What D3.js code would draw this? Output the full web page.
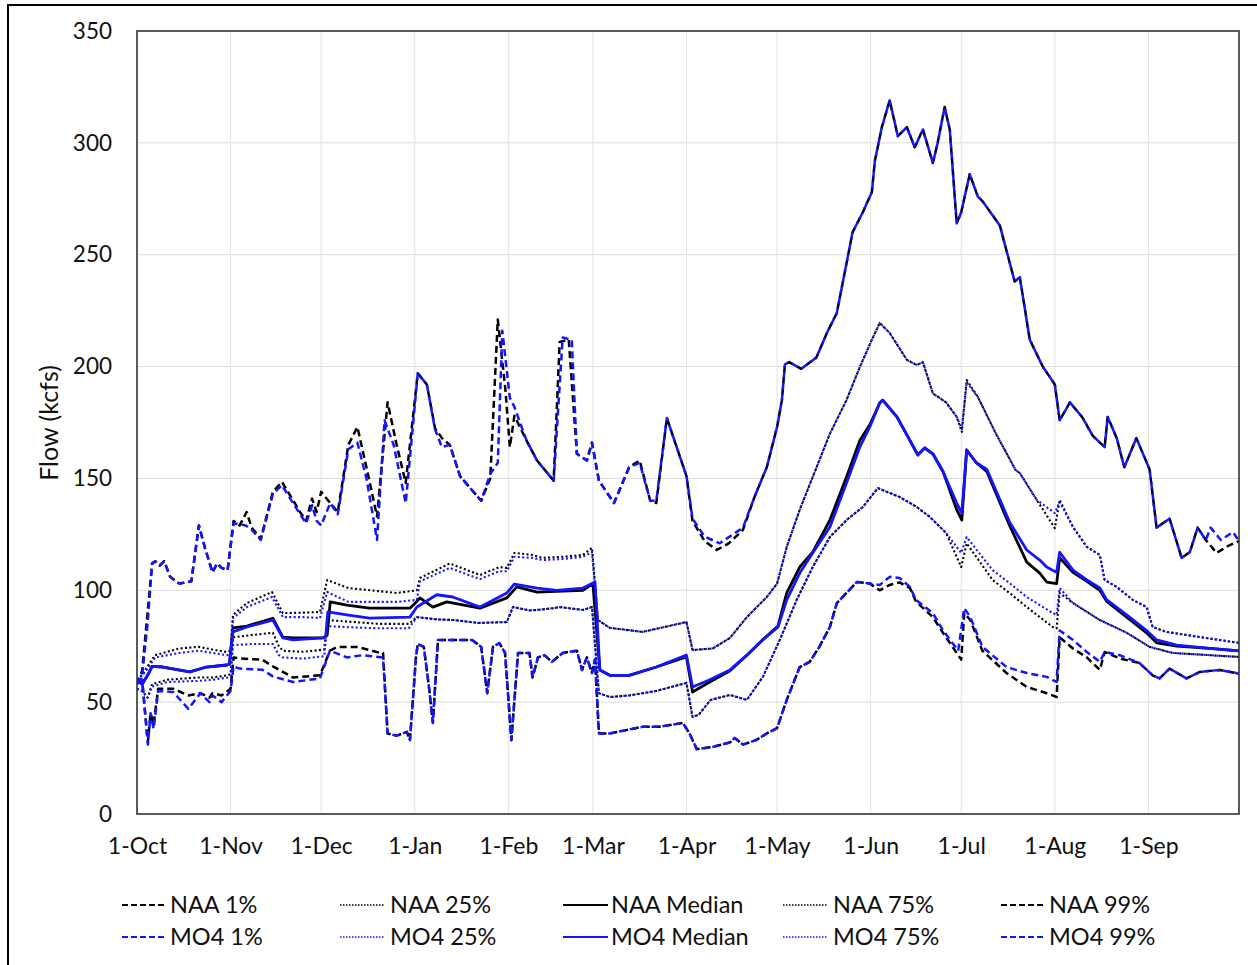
<!DOCTYPE html>
<html><head><meta charset="utf-8">
<script src="https://cdn.jsdelivr.net/npm/d3@7"></script>
<style>
html,body{margin:0;padding:0;background:#fff;}
text{font-family:Lato,"Open Sans",sans-serif;fill:#111;}
</style></head>
<body><svg id="chart" width="1257" height="965"></svg>
<script>
// ---------- DATA (day of water year from 1-Oct, flow in kcfs) ----------
const monthLabels = ["1-Oct","1-Nov","1-Dec","1-Jan","1-Feb","1-Mar","1-Apr","1-May","1-Jun","1-Jul","1-Aug","1-Sep"];
const monthDays   = [0,31,61,92,123,151,182,212,243,273,304,335];
const yTicks = [0,50,100,150,200,250,300,350];

const mo4_1 = [[0,60],[1.7,60],[3.6,31],[4.5,45],[5.5,38],[7,55],[12,54.5],[17,47],[21,54],[24,50],[25,53],[28,50],[31,55],[32,66],[34,65],[41.5,64.5],[45,61.5],[51.7,59],[60.6,60.6],[63.9,73],[69.5,70],[74.8,71],[81.5,70],[83,36],[86,35],[89.4,36.7],[90.4,33],[92.4,70],[93,76],[95,74.7],[96.7,56.8],[98,40.7],[99.7,77.8],[104.6,77.8],[111,77.8],[114,74.7],[116,54],[117.9,74.7],[120,76.4],[121.9,72],[124,33],[126.2,72],[130,72],[131,61],[132.8,70],[135,71],[137.4,68],[141,72],[145.7,73],[147.4,64.4],[149,70],[150.7,63],[151.7,69],[153,36],[156.6,36],[162,37.5],[167.5,39],[173,39],[180.8,40.7],[183,36],[185.4,29],[190.7,30],[196.4,32],[198,34],[200.7,31],[205,33],[208.6,36],[212,38.4],[215.2,51],[219.5,65.7],[222.8,68],[226,74.7],[229.5,83.6],[231.8,94.3],[235,98.8],[238.4,103.7],[242.7,103],[246,102.4],[249.3,106],[252.6,105.5],[256,101.5],[258,95.7],[263.6,89.8],[267,82],[272,73],[274,92],[276,88],[280,74.7],[288,65.7],[294.7,63],[301.3,61.3],[304.6,59],[305.6,82],[310,77.8],[314.6,72.4],[318.9,68],[320.5,72.4],[325.5,71],[332,67.5],[336.4,62],[338.7,60.6],[342,65],[347.6,60.6],[352,63.5],[358.6,64.4],[364.2,63],[365,62.5]];

const naa_1 = [[0,60],[1.7,60],[3.6,32],[4.5,45],[5.5,40],[7,56],[12,56],[17,53],[21,54],[24,52],[25,54],[28,53],[31,56],[32,70],[34,69.5],[41.5,69],[45,66],[51.7,61],[60.6,62],[63.9,73],[66.4,74.7],[73,74.7],[80.5,72],[81.5,72],[83,36],[86,35],[89.4,36.7],[90.4,33],[92.4,70],[93,76],[95,74.7],[96.7,56.8],[98,40.7],[99.7,77.8],[104.6,77.8],[111,77.8],[114,74.7],[116,54],[117.9,74.7],[120,76.4],[121.9,72],[124,33],[126.2,72],[130,72],[131,61],[132.8,70],[135,71],[137.4,68],[141,72],[145.7,73],[147.4,64.4],[149,70],[150.7,63],[151.7,69],[153,36],[156.6,36],[162,37.5],[167.5,39],[173,39],[180.8,40.7],[183,36],[185.4,29],[190.7,30],[196.4,32],[198,34],[200.7,31],[205,33],[208.6,36],[212,38.4],[215.2,51],[219.5,65.7],[222.8,68],[226,74.7],[229.5,83.6],[231.8,94.3],[235,98.8],[238.4,103.7],[242.7,103],[246,100],[249.3,102.4],[252.6,103.5],[256,101],[258,95],[263.6,88],[267,80.9],[272,71],[273,69],[274,89.8],[276,86.7],[280,73],[288,63],[294.7,56.8],[301.3,54],[304.6,52.3],[305.6,79],[310,74],[314.6,70],[318.9,64.4],[320.5,72.4],[325.5,69.5],[332,67.5],[336.4,62],[338.7,60.6],[342,65],[347.6,60.6],[352,63.5],[358.6,64.4],[364.2,63],[365,62.5]];

const naa_25 = [[0,56],[1.7,55],[3.5,52],[5,58],[10,60],[20,61],[25,61],[30,62],[31,62.5],[31.8,79],[38,80],[45,81],[47,75],[48.3,73],[55,72.5],[62,73.5],[63,86.7],[70,86],[80,85],[90,85],[92.7,88],[99.3,87],[105,86.7],[113,85.4],[122.5,85.8],[124.5,92.5],[130,91],[132.5,91.2],[138,92],[140,92.5],[147.7,91.2],[150.7,92.5],[153,54],[156.6,52.3],[163,53],[167.6,54],[172,55],[182,58.6],[184,43.4],[186,44.3],[190,51],[196.4,53.2],[202,51],[207.3,61.3],[212.9,77.8],[218.5,95.7],[223.8,110.4],[229.5,123.8],[235,131.4],[240.4,137.2],[245.4,145.7],[249.3,143.5],[252.6,141.7],[258.3,137.2],[262.6,132.8],[268,125.6],[273,110.4],[274.8,121],[283.4,104.6],[289,98.8],[294.7,92.5],[303.3,83.6],[304.6,83],[305.6,98.8],[310,94.3],[318.9,86.7],[327.8,81],[335.4,74.7],[343,72],[365,70.2]];

const mo4_25 = [[0,56],[1.7,55],[3.5,52],[5,57],[10,59],[20,59.5],[25,60],[30,61],[31,61.5],[31.8,75.5],[38,76],[45,76],[47,71],[48.3,70],[55,69.5],[62,70.5],[63,84],[70,83.5],[80,83],[90,83],[92.7,88],[99.3,87],[105,86.7],[113,85.4],[122.5,85.8],[124.5,92.5],[130,91],[132.5,91.2],[138,92],[140,92.5],[147.7,91.2],[150.7,92.5],[153,54],[156.6,52.3],[163,53],[167.6,54],[172,55],[182,58.6],[184,43.4],[186,44.3],[190,51],[196.4,53.2],[202,51],[207.3,61.3],[212.9,77.8],[218.5,95.7],[223.8,110.4],[229.5,123.8],[235,131.4],[240.4,137.2],[245.4,145.7],[249.3,143.5],[252.6,141.7],[258.3,137.2],[262.6,132.8],[268,125.6],[273,116.7],[274.8,123.8],[283.4,109],[289,103.2],[294.7,97],[303.3,89.8],[304.6,89],[305.6,101],[310,94.3],[318.9,86.7],[327.8,81],[335.4,74.7],[343,72],[365,70.2]];

const naa_med = [[0,60],[1.7,58],[3.5,62],[5,66],[8.6,65.7],[17.5,63.5],[23,65.7],[29.8,66.6],[30.6,67],[31.8,83.2],[36.4,84],[45,87.5],[48.3,79],[51.7,78.7],[61.6,78.7],[63,80],[64,94.8],[69.5,93.4],[77,92],[90.4,92],[92.7,95],[93.7,96.6],[98,92.5],[102.6,94.8],[113.6,92],[122.5,96.6],[125.8,101.5],[132.5,99.2],[147.7,100],[151,103],[153.3,64.4],[156.6,62],[163,62],[172,65.7],[182,70.2],[184,54.5],[189.7,59],[196.4,64],[202,71],[207.3,78],[212.3,84],[215.2,98.8],[219.5,110.4],[223.8,117],[229.5,131.4],[235,150.6],[239.4,167],[242.7,174],[246,183.7],[247,185],[251.7,177.5],[256,167],[258.6,160.5],[260.9,163.6],[263.6,161],[267,153],[271.5,136],[273.2,131.4],[274.8,162.7],[278,157],[281.5,153],[289,129],[294.7,112.6],[299,107.7],[301.3,103.7],[304.6,103],[305.6,114.5],[310,108],[314.6,104],[318.9,100],[321.2,95],[327.8,88],[334.4,81],[337.7,76.5],[344.4,75],[355.3,74],[365,72.9]];

const mo4_med = [[0,60],[1.7,58],[3.5,62],[5,66],[8.6,65.7],[17.5,63.5],[23,65.7],[29.8,66.6],[30.6,67],[31.8,81.4],[36.4,83.6],[45,86.7],[48.3,78.7],[51.7,77.8],[61.6,78.7],[62.5,79],[63.2,90.3],[69.5,89],[77,87.6],[90.4,88],[92.7,92.5],[99.3,98],[104.6,97],[113.6,92.5],[122.5,98.8],[125,102.8],[132.5,101],[139,100],[147.7,101],[151.7,103.7],[153.3,64.4],[156.6,62],[163,62],[172,65.7],[182,71],[184,56.8],[189.7,60],[196.4,64.4],[202,71],[207.3,77.8],[212.3,83.6],[215.2,95.7],[219.5,107.7],[223.8,116.7],[229.5,128.3],[235,148],[239.4,164],[242.7,173],[246,183.7],[247,185],[251.7,177.5],[256,167],[258.6,160.5],[260.9,163.6],[263.6,161],[267,153],[271.5,139],[273.2,134.5],[274.8,162.7],[278,157],[281.5,154],[289,130.5],[294.7,118],[299,113.5],[301.3,110.4],[304.6,108],[305.6,117],[310,109],[314.6,104.6],[318.9,101],[321.2,95.7],[327.8,89],[334.4,82],[337.7,77.8],[344.4,75.5],[355.3,74],[365,72.9]];

const naa_75 = [[0,60],[1.7,62],[3.5,66],[6,71],[14,74],[20.5,74.7],[25,73.5],[29.8,72.4],[31,73],[31.8,89],[36.4,94.3],[44.7,99.2],[48.3,89.8],[55,90],[60.6,90.3],[63,104.6],[70,101],[86,98.8],[92.7,100],[93.7,105.5],[103.6,112],[113.6,106.8],[120,110.4],[122.5,110],[125,116.7],[131,115.8],[134.4,114.5],[141,115],[147.7,115.8],[150.7,119],[152.7,86.7],[156.6,83.2],[167.5,81.4],[182,85.8],[184,73.3],[190.7,74],[196.4,78.7],[202,88],[208.6,97],[212,103],[215.2,119.4],[219.5,136],[223.8,150.6],[229.5,170],[235,185],[239.4,199.8],[243.4,212],[246,219.5],[249.3,215],[255,203],[258.3,200.7],[260.3,202],[263.6,188],[268,184],[271.5,177.5],[273.2,170.8],[274.8,194],[278.5,186.4],[284.5,170],[291,153.8],[292.4,152.4],[298,140.4],[304,127.8],[305.6,140.4],[310,128.3],[314.6,119.4],[318.9,115.8],[320.5,104.6],[324.5,101.5],[329.8,95.7],[334.4,92.5],[336.4,83.6],[341,81.4],[352,79.1],[363,76.9],[365,76.5]];

const mo4_75 = [[0,60],[1.7,62],[3.5,65],[6,70],[14,72],[20.5,73],[25,72],[29.8,71],[31,71.5],[31.8,87.6],[36.4,92.5],[44.7,97],[48.3,88],[55,88],[60.6,87.6],[63,99.2],[70,94.8],[86,94.8],[92.7,95.7],[93.7,104],[103.6,110],[113.6,105],[120,108.5],[122.5,108.5],[125,115],[131,114.5],[134.4,113.5],[141,114],[147.7,115],[150.7,117],[152.7,86.7],[156.6,83.2],[167.5,81.4],[182,85.8],[184,73.3],[190.7,74],[196.4,78.7],[202,88],[208.6,97],[212,103],[215.2,119.4],[219.5,136],[223.8,150.6],[229.5,170],[235,185],[239.4,199.8],[243.4,212],[246,219.5],[249.3,215],[255,203],[258.3,200.7],[260.3,202],[263.6,188],[268,184],[271.5,177.5],[273.2,172],[274.8,193],[278.5,186.4],[284.5,170],[291,153.8],[292.4,152.4],[298,140.4],[304,134.5],[305.6,139.5],[310,128.3],[314.6,119.4],[318.9,115.8],[320.5,104.6],[324.5,101.5],[329.8,95.7],[334.4,92.5],[336.4,83.6],[341,81.4],[352,79.1],[363,76.9],[365,76.5]];

const naa_99 = [[0,58],[1.7,64],[3.5,90],[5,112],[6,113],[7.5,111],[9,113],[11,106],[14,103],[18,104],[20.5,129],[22.5,119],[25,108],[26.5,112],[28,110],[30,109],[32,131],[34,129],[36.3,135],[38,128],[41,123],[45,144],[48,148.5],[54,135],[56,131],[58,141],[59.5,135],[61,144],[64,139],[66.5,135],[70,165],[73,173],[76,155],[79.5,133],[83,184],[86,165],[89,148],[93,197],[96,192],[98.7,172.5],[101,168],[103.6,165],[107,151],[114,140],[117,150],[119.5,221],[122,190],[123.5,164],[125,178],[129,167],[132.5,158],[138,149],[140,211],[143,212],[145.7,161],[149,158],[150.7,166],[153,149],[158,139],[163,155],[166.5,158],[170,140],[172,139],[175.5,177],[182,151],[184,131],[188,122],[192,118],[196,121],[200.7,127],[204.6,142],[208.6,155],[212,173],[213.6,185],[214.6,201],[216,202],[220,199],[225,204],[228.5,215],[231.8,224],[234.4,242],[237,260],[240.4,269],[243.4,278],[244.4,292],[246.7,307],[249.3,319],[252,303],[255,307],[257.6,298],[260.3,306],[263.6,291],[265.2,300],[267.5,316],[269.2,306],[271.5,264],[273,269],[275.8,286],[278.5,276],[280,274],[285.8,263],[290.7,238],[292.4,240],[295.7,212],[300,200],[304,192],[305.6,176],[309,184],[313,177.5],[316.6,169],[320.5,164],[321.5,177.5],[324.5,168],[327,155],[331,168],[335.4,154],[337.7,128],[342,132],[346,114.5],[348.7,117],[351.3,128],[354,122.5],[357.6,116.7],[361.6,120],[365,122]];

const mo4_99 = [[0,58],[1.7,62],[3.5,85],[5,112],[6,113],[7.5,111],[9,113],[11,106],[14,103],[18,104],[20.5,129],[22.5,119],[25,108],[26.5,112],[28,110],[30,109],[32,130],[36,129],[38,127],[41,122.5],[45,143],[48,147],[54,134],[56,130],[58,138],[59.5,131],[61,129],[64,139],[66.5,134],[70,163],[73,166],[76,150],[79.5,122.5],[82,176],[85,165],[89,139],[93,197],[96,192],[98.7,172],[101,164],[103.6,165],[107,151],[114,140],[117,152],[119.5,157],[121,216],[123.5,186],[125,182],[129,167],[132.5,158],[138,149],[141,213],[144,212],[145.7,161],[149,158],[150.7,166],[153,149],[158,139],[163,155],[166.5,157],[170,140],[172,140],[175.5,177],[182,151],[184,132],[188,124],[193,121],[200.7,128],[204.6,142],[208.6,155],[212,173],[213.6,185],[214.6,201],[216,202],[220,199],[225,204],[228.5,215],[231.8,224],[234.4,242],[237,260],[240.4,269],[243.4,278],[244.4,292],[246.7,307],[249.3,319],[252,303],[255,307],[257.6,298],[260.3,306],[263.6,291],[265.2,300],[267.5,316],[269.2,306],[271.5,264],[273,269],[275.8,286],[278.5,276],[280,274],[285.8,263],[290.7,238],[292.4,240],[295.7,212],[300,200],[304,192],[305.6,176],[309,184],[313,177.5],[316.6,169],[320.5,164],[321.5,177.5],[324.5,168],[327,155],[331,168],[335.4,154],[337.7,128],[342,132],[346,114.5],[348.7,117],[351.3,128],[354,122.5],[355.6,128],[359,122.5],[363,126],[365,122]];

const seriesNames = ["NAA 1%","NAA 25%","NAA Median","NAA 75%","NAA 99%","MO4 1%","MO4 25%","MO4 Median","MO4 75%","MO4 99%"];
const seriesData  = [naa_1,naa_25,naa_med,naa_75,naa_99,mo4_1,mo4_25,mo4_med,mo4_75,mo4_99];

// ---------- STYLES ----------
const BLUE = "#1414ff";
const styleOf = name => {
  const color = name.startsWith("NAA") ? "#000" : BLUE;
  if (name.endsWith("Median")) return {color, width:2.8, dash:null};
  if (name.endsWith("25%") || name.endsWith("75%")) return {color, width:2.1, dash:"2,2.4"};
  return {color, width:2.5, dash:"7,4"};
};

const svg = d3.select("#chart");
const L=137, R=1239, T=31, B=814;
const x = d3.scaleLinear().domain([0,365]).range([L,R]);
const y = d3.scaleLinear().domain([0,350]).range([B,T]);

// outer border
svg.append("rect").attr("x",8).attr("y",5).attr("width",1270).attr("height",990)
  .attr("fill","none").attr("stroke","#000").attr("stroke-width",2);

// grid
svg.append("g").selectAll("line").data(yTicks.filter(v=>v>0 && v<350)).join("line")
  .attr("x1",L).attr("x2",R).attr("y1",d=>y(d)).attr("y2",d=>y(d))
  .attr("stroke","#dcdcdc").attr("stroke-width",1);
svg.append("g").selectAll("line").data(monthDays.filter(d=>d>0)).join("line")
  .attr("x1",d=>x(d)).attr("x2",d=>x(d)).attr("y1",T).attr("y2",B)
  .attr("stroke","#e4e4e4").attr("stroke-width",1);

// axes labels
const yAxis = d3.axisLeft(y).tickValues(yTicks).tickSize(0).tickPadding(25);
const gy = svg.append("g").attr("transform",`translate(${L},0)`).call(yAxis);
gy.select(".domain").remove();
gy.selectAll("text").style("font-size","22.5px").style("font-family","Lato, 'Open Sans', sans-serif").attr("fill","#111");

const xAxis = d3.axisBottom(x).tickValues(monthDays).tickFormat((d,i)=>monthLabels[i]).tickSize(0).tickPadding(24);
const gx = svg.append("g").attr("transform",`translate(0,${B})`).call(xAxis);
gx.select(".domain").remove();
gx.selectAll("text").style("font-size","23px").style("font-family","Lato, 'Open Sans', sans-serif").attr("fill","#111");

svg.append("text").attr("transform","translate(58,423) rotate(-90)")
  .attr("text-anchor","middle").style("font-size","25px").text("Flow (kcfs)");

// lines
const line = d3.line().x(d=>x(d[0])).y(d=>y(d[1]));
svg.append("clipPath").attr("id","clip").append("rect")
  .attr("x",L).attr("y",T).attr("width",R-L).attr("height",B-T);
const gl = svg.append("g").attr("clip-path","url(#clip)");
seriesNames.forEach((name,i)=>{
  const s = styleOf(name);
  gl.append("path").datum(seriesData[i]).attr("d",line)
    .attr("fill","none").attr("stroke",s.color).attr("stroke-width",s.width)
    .attr("stroke-dasharray",s.dash).attr("stroke-linejoin","round");
});

// plot frame
svg.append("rect").attr("x",L).attr("y",T).attr("width",R-L).attr("height",B-T)
  .attr("fill","none").attr("stroke","#333").attr("stroke-width",1.6);

// legend
const colX = [122,340,563,783,1001];
const rowY = [905,937];
seriesNames.forEach((name,i)=>{
  const col = i%5, row = Math.floor(i/5);
  const s = styleOf(name);
  const x0 = colX[col], yy = rowY[row];
  svg.append("line").attr("x1",x0).attr("x2",x0+45).attr("y1",yy).attr("y2",yy)
    .attr("stroke",s.color).attr("stroke-width",s.dash==="2,2.4"?1.4:(s.dash?2:2.2))
    .attr("stroke-dasharray",s.dash==="2,2.4"?"1.5,1.5":(s.dash?"6,3":null));
  svg.append("text").attr("x",x0+(col===1||col===3?50:48)).attr("y",yy).attr("dy","0.35em")
    .style("font-size","23.5px").text(name);
});
</script>
</body></html>
